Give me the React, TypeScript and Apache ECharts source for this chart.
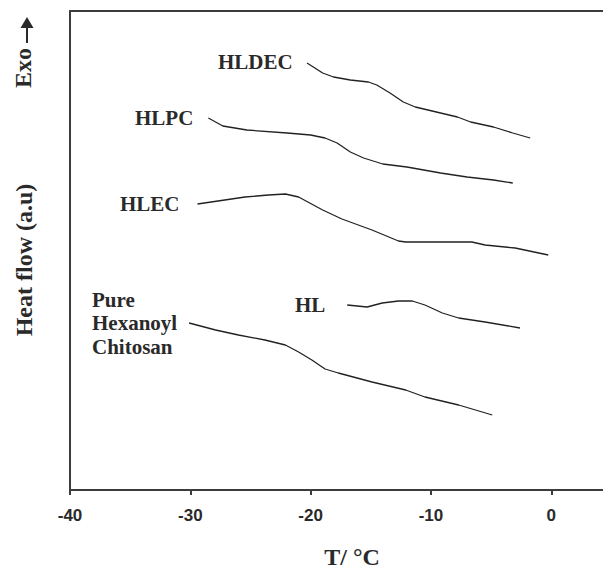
import React, { useEffect, useRef } from "react";
import * as echarts from "echarts";

// DSC heating traces: temperature (°C) against heat flow (arbitrary units, exo up)
const hldecT = [-20.3, -19.0, -18.1, -16.7, -15.2, -14.5, -13.4, -12.3, -11.3, -9.2, -7.8, -6.7, -4.8, -3.2, -1.75];
const hldecQ = [42.7, 41.7, 41.3, 41.0, 40.8, 40.5, 39.7, 38.8, 38.3, 37.7, 37.3, 36.8, 36.3, 35.7, 35.2];

const hlpcT = [-28.5, -27.3, -25.3, -21.95, -20.0, -18.8, -17.8, -16.7, -15.6, -14.0, -12.0, -9.2, -7.0, -4.8, -3.2];
const hlpcQ = [37.2, 36.4, 36.0, 35.7, 35.5, 35.2, 34.7, 33.8, 33.2, 32.6, 32.3, 31.7, 31.3, 31.0, 30.7];

const hlecT = [-29.4, -27.7, -25.45, -23.5, -22.1, -21.0, -19.0, -17.4, -14.9, -12.7, -12.1, -6.6, -5.5, -3.0, -0.25];
const hlecQ = [28.6, 28.9, 29.3, 29.5, 29.6, 29.3, 28.0, 27.1, 26.0, 24.9, 24.8, 24.8, 24.5, 24.2, 23.5];

const hlT = [-16.96, -15.3, -14.05, -12.7, -11.55, -10.5, -9.05, -7.7, -5.5, -2.6];
const hlQ = [18.5, 18.3, 18.7, 18.9, 18.9, 18.5, 17.7, 17.2, 16.8, 16.2];

const pureT = [-30.1, -27.9, -26.0, -23.8, -22.1, -21.0, -19.9, -18.8, -17.7, -14.9, -12.1, -10.5, -7.7, -4.9];
const pureQ = [16.7, 16.0, 15.5, 15.0, 14.5, 13.8, 13.0, 12.1, 11.7, 10.8, 10.0, 9.3, 8.5, 7.5];

const xTicks = [-40, -30, -20, -10, 0];

const pair = (t: number[], q: number[]) => t.map((v, i) => [v, q[i]]);

const traces = [
  { name: "HLDEC", data: pair(hldecT, hldecQ) },
  { name: "HLPC", data: pair(hlpcT, hlpcQ) },
  { name: "HLEC", data: pair(hlecT, hlecQ) },
  { name: "HL", data: pair(hlT, hlQ) },
  { name: "Pure Hexanoyl Chitosan", data: pair(pureT, pureQ) },
];

const serif = "'Liberation Serif', 'DejaVu Serif', serif";
const sans = "'Liberation Sans', Arial, sans-serif";
const ink = "#222";
const axisInk = "#3c3c3c";
const textInk = "#2a2a2a";

export default function App() {
  const ref = useRef<HTMLDivElement>(null);

  useEffect(() => {
    if (!ref.current) return;
    const chart = echarts.init(ref.current, null, { renderer: "svg" });

    const labelStyle = { fontFamily: serif, fontWeight: "bold", fontSize: 21, fill: textInk };
    const titleStyle = {
      fontFamily: serif,
      fontWeight: "bold",
      fontSize: 24,
      fill: textInk,
      align: "center",
      verticalAlign: "middle",
    };

    chart.setOption({
      animation: false,
      backgroundColor: "#fff",
      grid: { left: 70, right: 0, top: 11, bottom: 79 },
      xAxis: [
        {
          type: "value",
          min: -40,
          max: 4.3,
          interval: 10,
          splitLine: { show: false },
          axisLine: { show: true, onZero: false, lineStyle: { color: axisInk, width: 2 } },
          axisTick: {
            show: true,
            inside: false,
            length: 5,
            customValues: xTicks,
            lineStyle: { color: axisInk, width: 2 },
          },
          axisLabel: {
            margin: 17,
            fontFamily: sans,
            fontWeight: "bold",
            fontSize: 17,
            color: textInk,
            customValues: xTicks,
            formatter: (v: number) => (xTicks.includes(v) ? String(v) : ""),
          },
        },
        {
          type: "value",
          position: "top",
          min: -40,
          max: 4.3,
          interval: 10,
          splitLine: { show: false },
          axisLine: { show: true, onZero: false, lineStyle: { color: axisInk, width: 2 } },
          axisTick: { show: false },
          axisLabel: { show: false },
        },
      ],
      yAxis: {
        type: "value",
        min: 0,
        max: 47.9,
        splitLine: { show: false },
        axisLine: { show: true, onZero: false, lineStyle: { color: axisInk, width: 2 } },
        axisTick: { show: false },
        axisLabel: { show: false },
      },
      series: traces.map((t) => ({
        name: t.name,
        type: "line",
        data: t.data,
        showSymbol: false,
        symbol: "none",
        smooth: false,
        lineStyle: { color: ink, width: 1.3 },
      })),
      graphic: [
        { type: "text", left: 218, top: 51, style: { ...labelStyle, text: "HLDEC" } },
        { type: "text", left: 135, top: 107, style: { ...labelStyle, text: "HLPC" } },
        { type: "text", left: 120, top: 193, style: { ...labelStyle, text: "HLEC" } },
        { type: "text", left: 295, top: 294, style: { ...labelStyle, text: "HL" } },
        {
          type: "text",
          left: 92,
          top: 288,
          style: { ...labelStyle, text: "Pure\nHexanoyl\nChitosan", lineHeight: 23.5 },
        },
        {
          type: "text",
          x: 24,
          y: 260,
          rotation: Math.PI / 2,
          style: { ...titleStyle, text: "Heat flow (a.u)" },
        },
        {
          type: "text",
          x: 23,
          y: 68,
          rotation: Math.PI / 2,
          style: { ...titleStyle, text: "Exo" },
        },
        // exothermic-direction arrow beside "Exo"
        {
          type: "line",
          shape: { x1: 27, y1: 43, x2: 27, y2: 26 },
          style: { stroke: textInk, lineWidth: 2 },
        },
        {
          type: "polygon",
          shape: { points: [[20.5, 28], [33.5, 28], [27, 17]] },
          style: { fill: textInk },
        },
        {
          type: "text",
          x: 352,
          y: 557,
          style: { ...titleStyle, text: "T/ °C" },
        },
      ],
    });

    return () => chart.dispose();
  }, []);

  return (
    <div
      ref={ref}
      style={{ position: "fixed", left: 0, top: 0, width: 603, height: 569, background: "#fff" }}
    />
  );
}
